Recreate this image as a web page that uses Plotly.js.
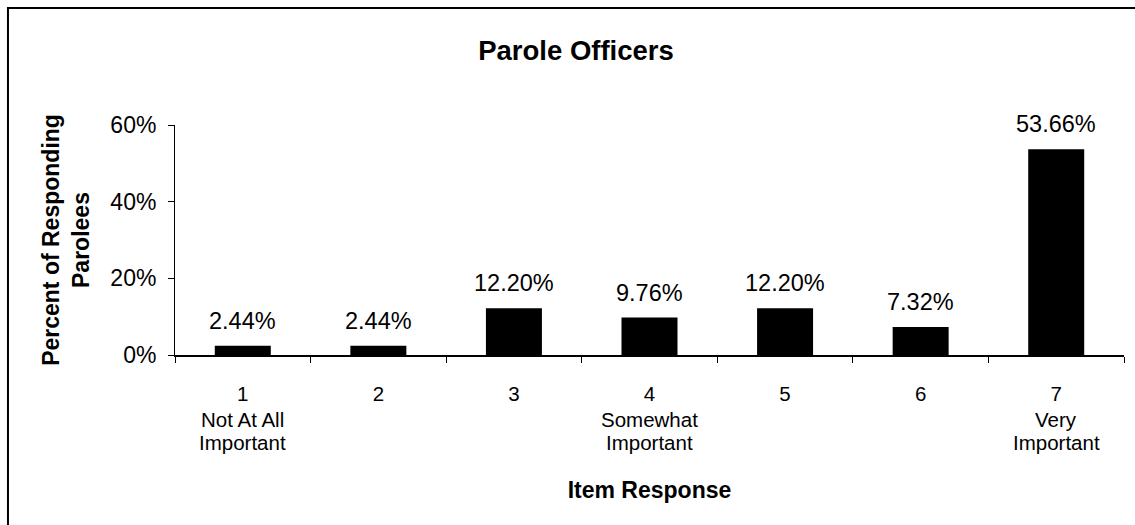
<!DOCTYPE html>
<html>
<head>
<meta charset="utf-8">
<script src="https://cdn.plot.ly/plotly-3.0.1.min.js"></script>
<style>
  html, body { margin: 0; padding: 0; background: #fff; }
  #chart { width: 1135px; height: 525px; }
</style>
</head>
<body>
<div id="chart"></div>
<script>
// Response scale (1-7) and the share of respondents choosing each point
const categories = ['1', '2', '3', '4', '5', '6', '7'];
const tickLabels = ['1', '2', '3', '4', '5', '6', '7'];
// Anchor wording printed under points 1, 4 and 7 (two lines each)
const anchorLine1 = ['Not At All', '', '', 'Somewhat', '', '', 'Very'];
const anchorLine2 = ['Important', '', '', 'Important', '', '', 'Important'];
const percents = [2.44, 2.44, 12.20, 9.76, 12.20, 7.32, 53.66];
const yTickVals = [0, 20, 40, 60];
const yTickText = ['0%', '20%', '40%', '60%'];

const FONT = 'Liberation Sans, Arial, sans-serif';

const trace = {
  type: 'bar',
  x: categories,
  y: percents,
  marker: { color: '#000000', line: { width: 0 } },
  hoverinfo: 'skip'
};

const annotations = [];

// Value labels above each bar (category index used as x position)
percents.forEach((v, i) => {
  annotations.push({
    x: i, y: v, xref: 'x', yref: 'y',
    text: v.toFixed(2) + '%',
    showarrow: false,
    yanchor: 'bottom',
    yshift: 10,
    font: { family: FONT, size: 23.5, color: '#000' }
  });
});

// Anchor wording under the category numbers
function addAnchorLine(lines, shift) {
  lines.forEach((t, i) => {
    if (!t) return;
    annotations.push({
      x: i, y: 0, xref: 'x', yref: 'paper',
      text: t,
      showarrow: false,
      yanchor: 'top',
      yshift: shift,
      borderpad: 0,
      font: { family: FONT, size: 20.5, color: '#000' }
    });
  });
}
addAnchorLine(anchorLine1, -51.6);
addAnchorLine(anchorLine2, -74.6);

const layout = {
  width: 1135,
  height: 525,
  margin: { l: 175, r: 11, t: 125, b: 170 },
  paper_bgcolor: '#fff',
  plot_bgcolor: '#fff',
  showlegend: false,
  bargap: 0.587,
  title: {
    text: '<b>Parole Officers</b>',
    font: { family: FONT, size: 27.5, color: '#000' },
    x: 0.5075,
    xanchor: 'center',
    y: 0.905,
    yanchor: 'middle'
  },
  xaxis: {
    type: 'category',
    tickmode: 'array',
    tickvals: categories,
    ticktext: tickLabels,
    tickson: 'boundaries',
    ticks: 'outside',
    ticklen: 6,
    tickcolor: '#000',
    tickwidth: 1,
    ticklabelstandoff: 20,
    showline: true,
    linecolor: '#000',
    linewidth: 1.5,
    showgrid: false,
    zeroline: false,
    range: [-0.5, 6.5],
    tickfont: { family: FONT, size: 20.5, color: '#000' },
    title: {
      text: '<b>Item Response</b>',
      font: { family: FONT, size: 23, color: '#000' },
      standoff: 78
    }
  },
  yaxis: {
    range: [0, 60],
    tickmode: 'array',
    tickvals: yTickVals,
    ticktext: yTickText,
    ticks: 'outside',
    ticklen: 6,
    tickcolor: '#000',
    ticklabelstandoff: 7,
    showline: true,
    linecolor: '#000',
    linewidth: 1,
    showgrid: false,
    zeroline: false,
    tickfont: { family: FONT, size: 23, color: '#000' },
    title: {
      text: '<b>Percent of Responding<br>Parolees</b>',
      font: { family: FONT, size: 23, color: '#000' },
      standoff: 14
    }
  },
  annotations: annotations,
  shapes: [{
    type: 'rect',
    xref: 'paper', yref: 'paper',
    x0: -0.176, x1: 1.2,
    y0: -1, y1: 1.5087,
    line: { color: '#000', width: 2 },
    fillcolor: 'rgba(0,0,0,0)',
    layer: 'below'
  }]
};

Plotly.newPlot('chart', [trace], layout, { displayModeBar: false, staticPlot: true });
</script>
</body>
</html>
